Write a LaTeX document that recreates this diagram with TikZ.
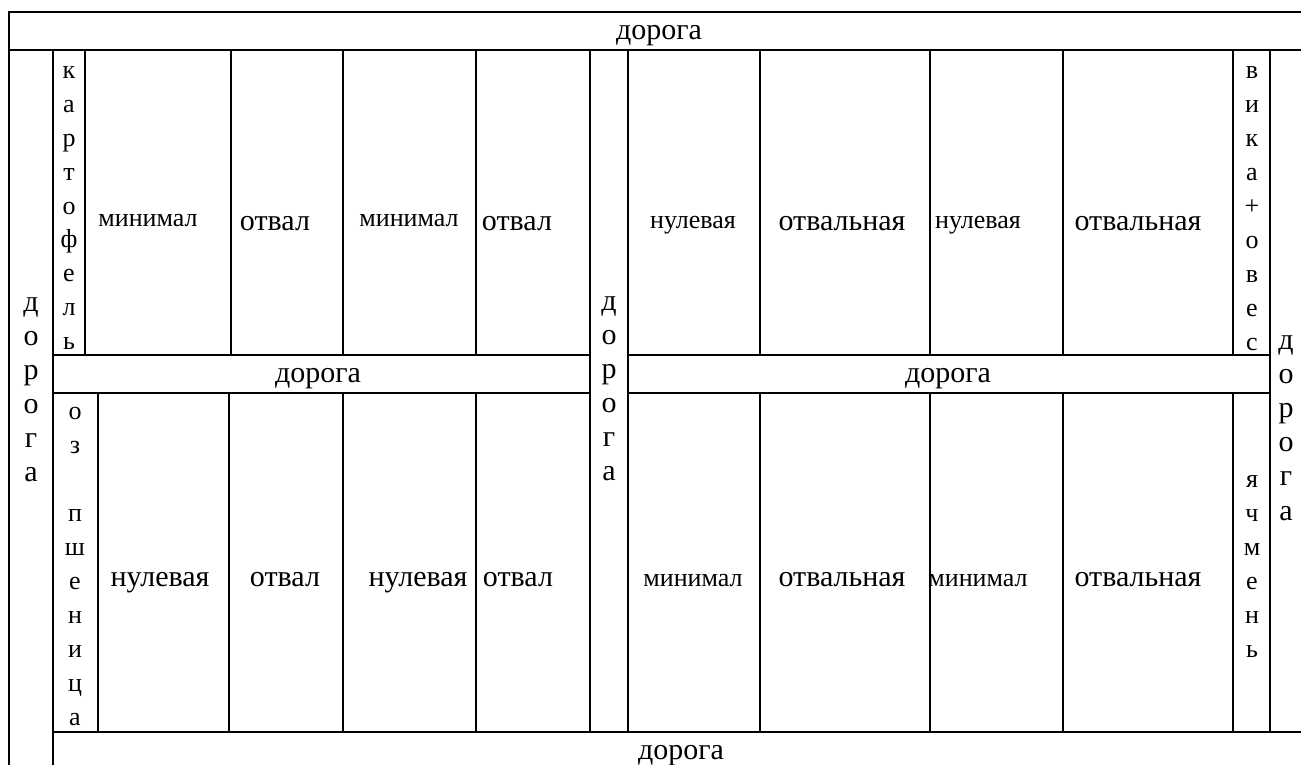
\documentclass[tikz,border=0pt]{standalone}
\usepackage{fontspec}
\setmainfont{Liberation Serif}
\newcommand\smallcf{\fontsize{26}{30}\selectfont}
\newcommand\bigcf{\fontsize{30}{34}\selectfont}
\begin{document}
\begin{tikzpicture}[x=1pt,y=-1pt,
  grid/.style={line width=2.6pt, line cap=rect},
  lbl/.style={font=\bigcf, inner sep=0pt, anchor=base},
  slbl/.style={font=\smallcf, inner sep=0pt, anchor=base},
  ltr/.style={font=\smallcf, inner sep=0pt, anchor=base},
  rltr/.style={font=\bigcf, inner sep=0pt, anchor=base}]
\useasboundingbox (0,0) rectangle (1301,765);
\clip (0,0) rectangle (1301,765);
% outer and road lines
\draw[grid] (1310,12) -- (9,12) -- (9,775);
\draw[grid] (9,50) -- (1310,50);
\draw[grid] (53,50) -- (53,775);
\draw[grid] (53,732) -- (1310,732);
\draw[grid] (53,355) -- (590,355);
\draw[grid] (53,393) -- (590,393);
\draw[grid] (628,355) -- (1270,355);
\draw[grid] (628,393) -- (1270,393);
\draw[grid] (590,50) -- (590,732);
\draw[grid] (628,50) -- (628,732);
\draw[grid] (1270,50) -- (1270,732);
% top row columns
\foreach \x in {85,231,343,476,760,930,1063,1233}
  \draw[grid] (\x,50) -- (\x,355);
% bottom row columns
\foreach \x in {98,229,343,476,760,930,1063,1233}
  \draw[grid] (\x,393) -- (\x,732);
% road labels
\node[lbl] (rtop) at (659,40) {дорога};
\node[lbl] (rmidl) at (318,382) {дорога};
\node[lbl] (rmidr) at (948,382) {дорога};
\node[lbl] (rbot) at (681,759) {дорога};
% top row cells
\node[slbl] (t1) at (148,226) {минимал};
\node[lbl] (t2) at (275,230) {отвал};
\node[slbl] (t3) at (409,226) {минимал};
\node[lbl] (t4) at (517,230) {отвал};
\node[slbl] (t5) at (693,228) {нулевая};
\node[lbl] (t6) at (842,230) {отвальная};
\node[slbl] (t7) at (978,228) {нулевая};
\node[lbl] (t8) at (1138,230) {отвальная};
% bottom row cells
\node[lbl] (b1) at (160,586) {нулевая};
\node[lbl] (b2) at (285,586) {отвал};
\node[lbl] (b3) at (418,586) {нулевая};
\node[lbl] (b4) at (518,586) {отвал};
\node[slbl] (b5) at (693,586) {минимал};
\node[lbl] (b6) at (842,586) {отвальная};
\node[slbl] (b7) at (978,586) {минимал};
\node[lbl] (b8) at (1138,586) {отвальная};
% vertical stacks
\foreach \l [count=\i from 0] in {к,а,р,т,о,ф,е,л,ь}
  \node[ltr] (kart\i) at (69,79+33.75*\i) {\l};
\foreach \l [count=\i from 0] in {д,о,р,о,г,а}
  \node[rltr] (dl\i) at (31,311+34*\i) {\l};
\foreach \l [count=\i from 0] in {д,о,р,о,г,а}
  \node[rltr] (dm\i) at (609,310+34*\i) {\l};
\foreach \l [count=\i from 0] in {о,з,{},п,ш,е,н,и,ц,а}
  \node[ltr] (psh\i) at (75,419+34*\i) {\l};
\foreach \l [count=\i from 0] in {в,и,к,а,+,о,в,е,с}
  \node[ltr] (vika\i) at (1252,79+33.9*\i) {\l};
\foreach \l [count=\i from 0] in {д,о,р,о,г,а}
  \node[rltr] (dr\i) at (1286,349+34.2*\i) {\l};
\foreach \l [count=\i from 0] in {я,ч,м,е,н,ь}
  \node[ltr] (yach\i) at (1252,487+34*\i) {\l};
\end{tikzpicture}
\end{document}
